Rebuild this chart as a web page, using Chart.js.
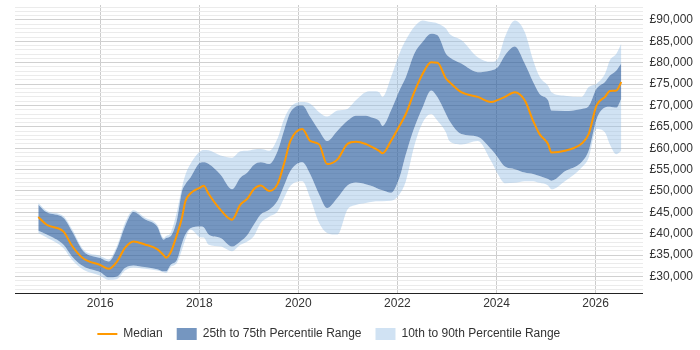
<!DOCTYPE html>
<html>
<head>
<meta charset="utf-8">
<script src="https://cdn.jsdelivr.net/npm/chart.js@4.4.1/dist/chart.umd.min.js"></script>
<style>
  html, body { margin: 0; padding: 0; background: #fff; }
  #wrap { width: 700px; height: 350px; }
</style>
</head>
<body>
<div id="wrap"><canvas id="salaryChart" width="700" height="350"></canvas></div>
<script>
// time points (decimal years)
const years = [2014.75, 2014.92, 2015.26, 2015.43, 2015.66, 2016.00, 2016.17, 2016.34, 2016.50, 2016.67,
  2016.90, 2017.15, 2017.28, 2017.33, 2017.42, 2017.55, 2017.65, 2017.72, 2017.82, 2018.02,
  2018.09, 2018.19, 2018.43, 2018.66, 2018.83, 2018.97, 2019.10, 2019.24, 2019.41, 2019.58,
  2019.71, 2019.84, 2020.08, 2020.24, 2020.42, 2020.58, 2020.79, 2020.99, 2021.16, 2021.36,
  2021.50, 2021.63, 2021.70, 2021.87, 2022.04, 2022.17, 2022.34, 2022.51, 2022.68, 2022.81,
  2022.98, 2023.05, 2023.29, 2023.62, 2023.89, 2024.03, 2024.17, 2024.37, 2024.57, 2024.74,
  2024.87, 2025.04, 2025.11, 2025.38, 2025.72, 2025.86, 2026.02, 2026.19, 2026.29, 2026.42, 2026.52];

const p10 = [40200, 39100, 36600, 33900, 31600, 30200, 29200, 29400, 31400, 32100,
  31800, 31400, 31000, 30800, 32200, 33200, 36200, 38700, 41000, 39200,
  39100, 37400, 37000, 35900, 37400, 38200, 39400, 42500, 44000, 45200,
  48300, 51200, 52300, 48300, 42500, 40200, 39800, 45600, 46700, 47200,
  47500, 47600, 47600, 47700, 49200, 52300, 60500, 66000, 68000, 66400,
  63700, 61700, 60900, 61700, 57000, 53900, 51800, 51900, 52300, 52300,
  51900, 51300, 50400, 52300, 55500, 57800, 64500, 63700, 60900, 58600, 59400];

const p25 = [40700, 39800, 37400, 34700, 32400, 31000, 29800, 30000, 32000, 32600,
  32200, 31700, 31200, 31200, 32700, 33900, 37700, 39800, 41300, 41700,
  41500, 39800, 39000, 37000, 38200, 39700, 42100, 44500, 45600, 47700,
  51200, 54700, 56700, 53900, 49200, 46000, 48400, 51300, 52000, 51600,
  51100, 50400, 50200, 49600, 53100, 58600, 64800, 69600, 73500, 71900,
  68000, 66400, 63300, 62700, 59800, 57800, 55700, 55100, 54300, 54000,
  53500, 52800, 52400, 54600, 56800, 59400, 66800, 69500, 69700, 69500, 71600];

const median = [43900, 42100, 40500, 37200, 34200, 32700, 31800, 33500, 36700, 38200,
  37500, 36400, 35000, 34400, 35600, 39800, 43700, 47600, 49400, 50800,
  51200, 49300, 45600, 43300, 46800, 48200, 50400, 51300, 50000, 51600,
  56300, 61700, 64500, 61700, 60900, 56300, 57400, 61000, 61500, 61000,
  60200, 59400, 58800, 61700, 65200, 68000, 73100, 77400, 80100, 80000,
  76300, 75500, 73100, 72000, 70800, 71300, 72000, 73100, 71200, 66400,
  63300, 61000, 59000, 59400, 61100, 63300, 70000, 72000, 73400, 73500, 75500];

const p75 = [46800, 45000, 43700, 40600, 35900, 34300, 33500, 36600, 41700, 45100,
  43400, 41700, 38600, 39000, 39400, 43300, 49900, 51600, 53100, 56600,
  56700, 56300, 53800, 50400, 53100, 54300, 56100, 56700, 56300, 59300,
  64100, 68400, 70000, 67300, 64100, 61700, 64100, 66400, 67600, 67600,
  67100, 66400, 65200, 68800, 73500, 76600, 82100, 84900, 86800, 86400,
  82100, 81300, 79800, 77800, 78200, 79000, 81700, 83800, 79800, 75500,
  72700, 71200, 68800, 68700, 69200, 69800, 73900, 75500, 77000, 78200, 79900];

const p90 = [47200, 45400, 44100, 41100, 36300, 34800, 34000, 37200, 42500, 45500,
  43800, 42100, 39000, 39500, 40200, 45200, 50800, 53800, 56300, 59300,
  59600, 59500, 58300, 57800, 59300, 59400, 59700, 59800, 59400, 62300,
  66800, 69600, 70800, 70400, 68400, 67400, 68800, 69200, 71200, 73100,
  73300, 73100, 72000, 76600, 82100, 85300, 88400, 89900, 89500, 89200,
  88000, 86800, 85300, 81300, 80200, 81000, 86000, 89900, 87200, 80600,
  76700, 74600, 73100, 72300, 72000, 74300, 75100, 77400, 80600, 82100, 84500];

const yearTicks = [2016, 2018, 2020, 2022, 2024, 2026];

const darkFill = 'rgba(45, 95, 160, 0.66)';
const lightFill = 'rgba(150, 190, 228, 0.45)';

function points(values) {
    return years.map((x, i) => ({ x: x, y: values[i] }));
}

function band(label, values, fill, color) {
    return {
        label: label,
        data: points(values),
        fill: fill,
        backgroundColor: color,
        borderWidth: 0,
        pointRadius: 0,
        pointStyle: 'rect',
        cubicInterpolationMode: 'monotone'
    };
}

Chart.defaults.font.family = '"Liberation Sans", Arial, sans-serif';
Chart.defaults.font.size = 12;
Chart.defaults.color = '#333';

new Chart(document.getElementById('salaryChart'), {
    type: 'line',
    data: {
        datasets: [
            {
                label: 'Median',
                data: points(median),
                borderColor: '#ff9900',
                backgroundColor: '#ff9900',
                borderWidth: 2,
                pointRadius: 0,
                pointStyle: 'line',
                fill: false,
                cubicInterpolationMode: 'monotone'
            },
            band('25th to 75th Percentile Range', p75, 3, darkFill),
            band('10th to 90th Percentile Range', p90, 1, lightFill),
            band('', p25, 4, lightFill),
            band('', p10, false, lightFill)
        ]
    },
    options: {
        responsive: false,
        animation: false,
        layout: { padding: { left: 15, right: 0, top: 5 } },
        plugins: {
            tooltip: { enabled: false },
            legend: {
                position: 'bottom',
                fullSize: false,
                labels: {
                    usePointStyle: true,
                    pointStyleWidth: 20,
                    boxHeight: 12,
                    padding: 14,
                    color: '#333',
                    filter: item => item.text !== ''
                }
            }
        },
        scales: {
            x: {
                type: 'linear',
                min: 2014.28,
                max: 2026.95,
                afterBuildTicks: scale => {
                    scale.ticks = yearTicks.map(v => ({ value: v }));
                },
                ticks: {
                    padding: 3,
                    color: '#333',
                    callback: v => String(v)
                },
                grid: { color: '#cccccc', drawTicks: false },
                border: { color: '#222', width: 1 }
            },
            y: {
                position: 'right',
                min: 26000,
                max: 93500,
                afterBuildTicks: scale => {
                    const t = [];
                    for (let v = 26000; v <= 93000; v += 1000) t.push({ value: v });
                    scale.ticks = t;
                },
                afterFit: scale => {
                    // the empty top labels should not push the plot down
                    scale.paddingTop = 0;
                    scale.paddingBottom = 0;
                },
                ticks: {
                    autoSkip: false,
                    padding: 7,
                    color: '#333',
                    callback: v => v % 5000 === 0 ? '£' + v.toLocaleString('en-GB') : ''
                },
                grid: {
                    drawTicks: false,
                    color: ctx => (ctx.tick && ctx.tick.value % 5000 === 0) ? '#d0d0d0' : '#ebebeb'
                },
                border: { display: false }
            }
        }
    }
});
</script>
</body>
</html>
